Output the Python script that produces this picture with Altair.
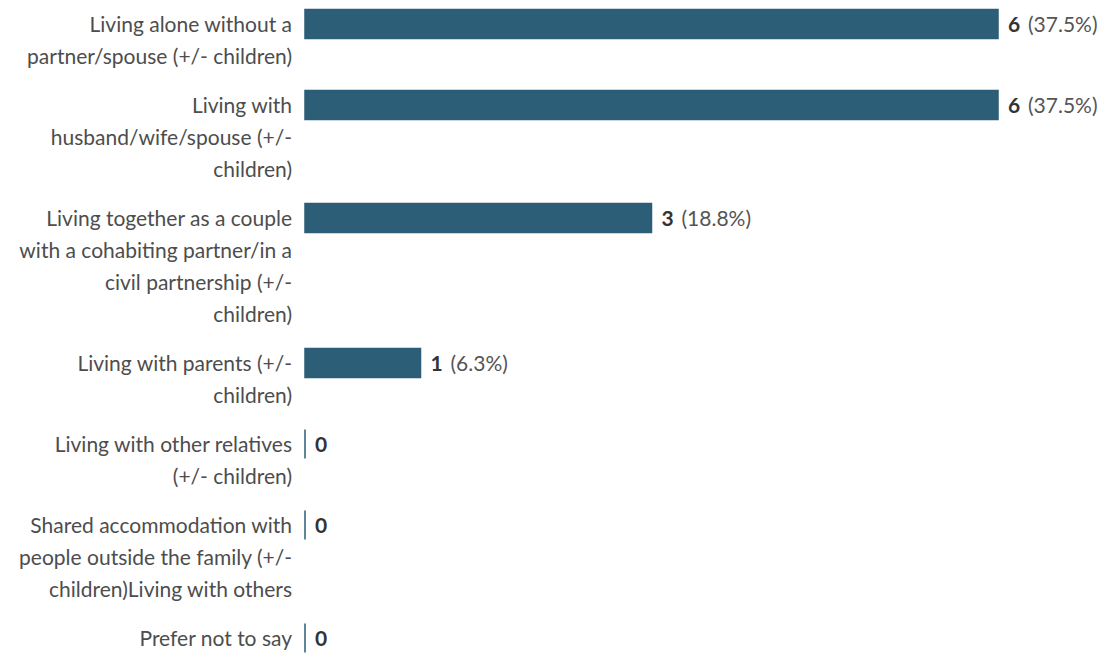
import altair as alt
import pandas as pd

labels = [
    "Living alone without a\npartner/spouse (+/- children)",
    "Living with\nhusband/wife/spouse (+/-\nchildren)",
    "Living together as a couple\nwith a cohabiting partner/in a\ncivil partnership (+/-\nchildren)",
    "Living with parents (+/-\nchildren)",
    "Living with other relatives\n(+/- children)",
    "Shared accommodation with\npeople outside the family (+/-\nchildren)Living with others",
    "Prefer not to say",
]
counts = [6, 6, 3, 1, 0, 0, 0]
percents = ["(37.5%)", "(37.5%)", "(18.8%)", "(6.3%)", "", "", ""]

# layout derived from the number of label lines
LINE = 32
GAP = 17
rows, lines = [], []
top = 0
for lab, c, p in zip(labels, counts, percents):
    parts = lab.split("\n")
    rows.append({"label": lab, "count": c, "pct": p,
                 "y": top + 1.5, "y2": top + 30.5, "ymid": top + LINE / 2})
    for k, s in enumerate(parts):
        lines.append({"line": s, "ly": top + LINE * k + LINE / 2})
    top += LINE * len(parts) + GAP
total = top - GAP

df = pd.DataFrame(rows)
dl = pd.DataFrame(lines)

W, H = 693, total
FONT = "Lato"
FS = 21
BAR = "#2c5e77"

yscale = alt.Scale(domain=[0, total], reverse=True, nice=False, zero=False)
xscale = alt.Scale(domain=[0, 6], nice=False)

bars = alt.Chart(df).mark_bar(color=BAR, stroke=BAR, strokeWidth=1.5).encode(
    x=alt.X("zero:Q", scale=xscale, axis=None),
    x2="count:Q",
    y=alt.Y("y:Q", scale=yscale, axis=None),
    y2="y2:Q",
).transform_calculate(zero="0")

cnt = alt.Chart(df).mark_text(
    align="left", baseline="middle", dx=10, dy=1.5, font=FONT, fontSize=FS,
    fontWeight="bold", color="#333333"
).encode(
    x=alt.X("count:Q", scale=xscale, axis=None),
    y=alt.Y("ymid:Q", scale=yscale, axis=None),
    text="count:Q",
)

pct = alt.Chart(df).mark_text(
    align="left", baseline="middle", dx=30, dy=1.5, font=FONT, fontSize=FS,
    color="#555555"
).encode(
    x=alt.X("count:Q", scale=xscale, axis=None),
    y=alt.Y("ymid:Q", scale=yscale, axis=None),
    text="pct:N",
)

lab = alt.Chart(dl).mark_text(
    align="right", baseline="middle", dy=1.5, font=FONT, fontSize=FS,
    color="#4d4d4d"
).encode(
    x=alt.value(-13),
    y=alt.Y("ly:Q", scale=yscale, axis=None),
    text="line:N",
)

chart = alt.layer(bars, cnt, pct, lab).properties(
    width=W, height=H,
    background="white",
    autosize=alt.AutoSizeParams(type="none"),
    padding={"left": 305, "top": 8, "right": 106, "bottom": 1},
).configure_view(strokeWidth=0, stroke=None)

chart.save("out.html", embed_options={"renderer": "svg", "actions": False})
